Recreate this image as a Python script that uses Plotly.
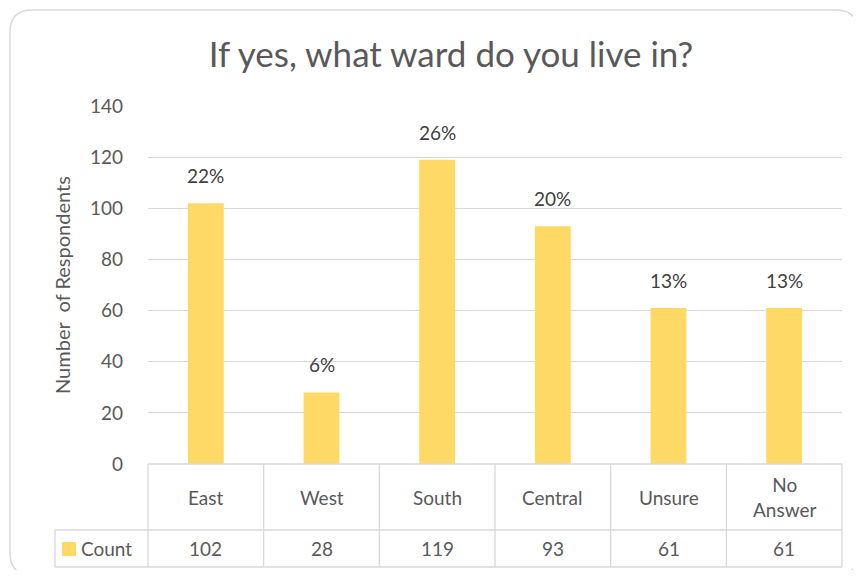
import plotly.graph_objects as go

categories = ["East", "West", "South", "Central", "Unsure", "No Answer"]
table_labels = ["East", "West", "South", "Central", "Unsure", "No<br>Answer"]
counts = [102, 28, 119, 93, 61, 61]
percent_labels = ["22%", "6%", "26%", "20%", "13%", "13%"]
y_ticks = [0, 20, 40, 60, 80, 100, 120, 140]
series_name = "Count"

OFF = 8  # page body margin
W, H = 861 - 2 * OFF, 578 - 2 * OFF
L = 148 - OFF
T = 106 - OFF
R = W - (842 - OFF)
B = H - (464 - OFF)
pw, ph = W - L - R, H - T - B

def px_x(p):
    return (p - OFF - L) / pw

def px_y(p):
    return (H - B - (p - OFF)) / ph

FONT = "Lato, 'Open Sans', sans-serif"
TXT = "#595959"
GRID = "#d9d9d9"
BAR = "#FFD966"
FS = 19

fig = go.Figure()
fig.add_trace(go.Bar(
    x=categories, y=counts, name=series_name,
    marker=dict(color=BAR, line=dict(width=0)),
    showlegend=False, hoverinfo="x+y",
))

n = len(categories)
shapes = []
row1 = px_y(530)
row2 = px_y(567)
left_cell = px_x(55)
line = dict(color=GRID, width=1.3)
shapes.append(dict(type="line", xref="paper", yref="paper", x0=0, x1=1, y0=0, y1=0, line=line))
shapes.append(dict(type="line", xref="paper", yref="paper", x0=left_cell, x1=1, y0=row1, y1=row1, line=line))
shapes.append(dict(type="line", xref="paper", yref="paper", x0=left_cell, x1=1, y0=row2, y1=row2, line=line))
for i in range(n + 1):
    xp = i / n
    shapes.append(dict(type="line", xref="paper", yref="paper", x0=xp, x1=xp, y0=0, y1=row2, line=line))
shapes.append(dict(type="line", xref="paper", yref="paper", x0=left_cell, x1=left_cell, y0=row1, y1=row2, line=line))
shapes.append(dict(type="rect", xref="paper", yref="paper",
                   x0=px_x(62), x1=px_x(76), y0=px_y(556), y1=px_y(542),
                   fillcolor=BAR, line=dict(width=0)))
x0, x1 = px_x(10), px_x(858)
y0, y1 = px_y(10), px_y(575)
rx, ry = 22 / pw, 22 / ph
path = (f"M {x0+rx},{y0} L {x1-rx},{y0} Q {x1},{y0} {x1},{y0-ry} "
        f"L {x1},{y1+ry} Q {x1},{y1} {x1-rx},{y1} L {x0+rx},{y1} "
        f"Q {x0},{y1} {x0},{y1+ry} L {x0},{y0-ry} Q {x0},{y0} {x0+rx},{y0} Z")
shapes.append(dict(type="path", xref="paper", yref="paper", path=path,
                   line=dict(color=GRID, width=1.5), layer="below"))

annotations = []
for cat, c, pct in zip(categories, counts, percent_labels):
    annotations.append(dict(xref="x", yref="y", x=cat, y=c, yanchor="bottom",
                            xanchor="center", yshift=14, text=pct, showarrow=False,
                            font=dict(size=FS, color="#404040", family=FONT)))
for i, (lab, c) in enumerate(zip(table_labels, counts)):
    xc = (i + 0.5) / n
    annotations.append(dict(xref="paper", yref="paper", x=xc, y=(0 + row1) / 2,
                            xanchor="center", yanchor="middle", align="center",
                            text=lab, showarrow=False,
                            font=dict(size=FS, color=TXT, family=FONT)))
    annotations.append(dict(xref="paper", yref="paper", x=xc, y=(row1 + row2) / 2,
                            xanchor="center", yanchor="middle",
                            text=str(c), showarrow=False,
                            font=dict(size=FS, color=TXT, family=FONT)))
annotations.append(dict(xref="paper", yref="paper", x=px_x(79), y=(row1 + row2) / 2,
                        xanchor="left", yanchor="middle", text=series_name, showarrow=False,
                        font=dict(size=FS, color=TXT, family=FONT)))
annotations.append(dict(xref="paper", yref="paper", x=px_x(62), y=0.5,
                        xanchor="center", yanchor="middle", textangle=-90,
                        text="Number  of Respondents", showarrow=False,
                        font=dict(size=20, color=TXT, family=FONT)))

fig.update_layout(
    width=W, height=H,
    margin=dict(l=L, r=R, t=T, b=B),
    paper_bgcolor="white", plot_bgcolor="white",
    title=dict(text="If yes, what ward do you live in?", x=(451 - OFF) / W, xanchor="center",
               y=1 - (55 - OFF) / H, yanchor="middle", xref="container", yref="container",
               font=dict(size=35, color=TXT, family=FONT)),
    bargap=0.69,
    xaxis=dict(showticklabels=False, showgrid=False, zeroline=False, showline=False,
               ticks="", range=[-0.5, n - 0.5]),
    yaxis=dict(range=[0, 140], tickvals=y_ticks, showgrid=True, gridcolor=GRID,
               gridwidth=1.3, zeroline=False, showline=False, ticks="",
               tickfont=dict(size=FS, color=TXT, family=FONT), ticklabelstandoff=24),
    shapes=shapes, annotations=annotations,
    font=dict(family=FONT, color=TXT),
)

fig.write_html("out.html")
